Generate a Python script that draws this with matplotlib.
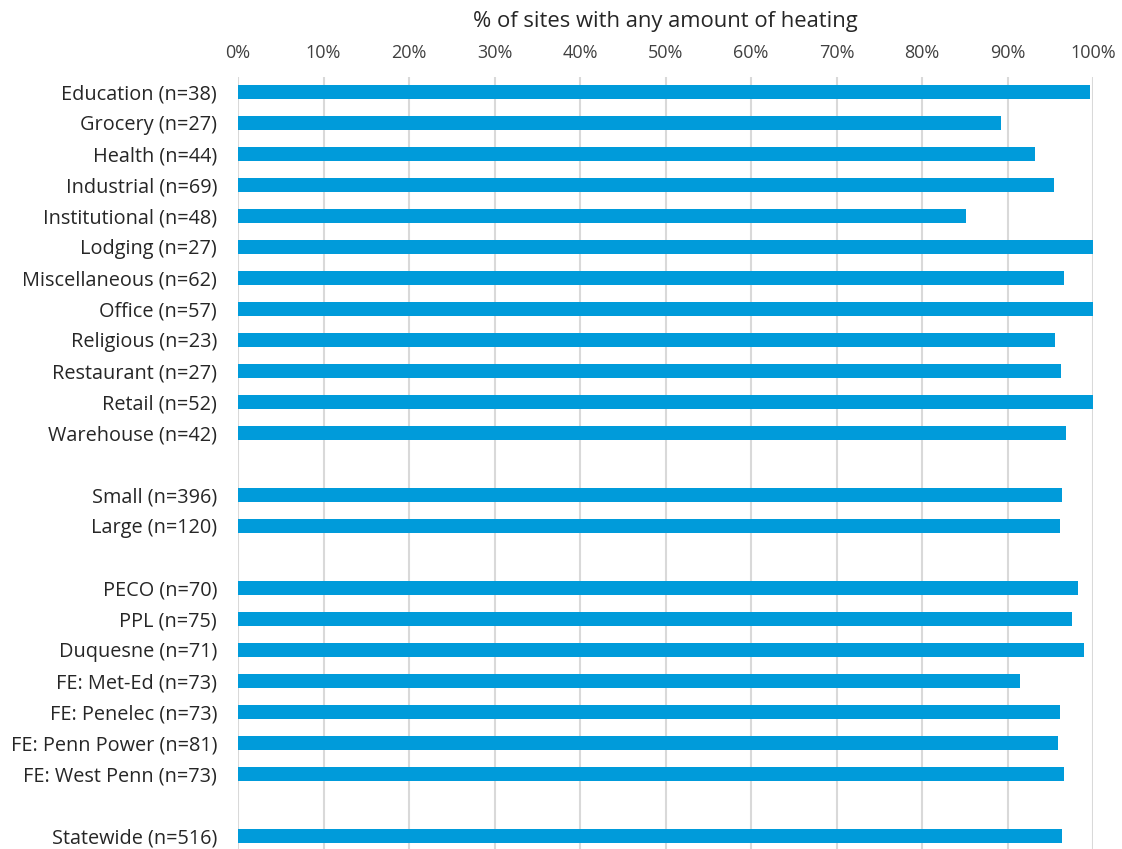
import matplotlib
matplotlib.use("Agg")
import matplotlib.pyplot as plt
import numpy as np

plt.rcParams['font.family'] = ['Open Sans', 'DejaVu Sans']

categories = ["Education (n=38)", "Grocery (n=27)", "Health (n=44)", "Industrial (n=69)",
              "Institutional (n=48)", "Lodging (n=27)", "Miscellaneous (n=62)", "Office (n=57)",
              "Religious (n=23)", "Restaurant (n=27)", "Retail (n=52)", "Warehouse (n=42)",
              None,
              "Small (n=396)", "Large (n=120)",
              None,
              "PECO (n=70)", "PPL (n=75)", "Duquesne (n=71)", "FE: Met-Ed (n=73)",
              "FE: Penelec (n=73)", "FE: Penn Power (n=81)", "FE: West Penn (n=73)",
              None,
              "Statewide (n=516)"]
values = [99.6, 89.2, 93.2, 95.4, 85.2, 100.0, 96.6, 100.0, 95.5, 96.2, 100.0, 96.9,
          None,
          96.4, 96.1,
          None,
          98.3, 97.5, 98.9, 91.5, 96.1, 95.9, 96.6,
          None,
          96.4]
xticks = list(range(0, 101, 10))
xlabel = "% of sites with any amount of heating"

fig = plt.figure(figsize=(11.22, 8.49), dpi=100)
ax = fig.add_axes([238/1122, 0.0, (1093-238)/1122, 1 - 77/849])

pos = [i for i, v in enumerate(values) if v is not None]
vals = [v for v in values if v is not None]
labs = [categories[i] for i in pos]

ax.barh(pos, vals, height=0.45, color='#009BDA', zorder=3)
ax.set_xlim(0, 100)
ax.set_ylim(24.42, -0.48)
ax.set_yticks(pos)
ax.set_yticklabels(labs, fontsize=14.3, color='#262626')
ax.set_xticks(xticks)
ax.set_xticklabels([f"{t}%" for t in xticks], fontsize=13, color='#404040')
ax.xaxis.tick_top()
ax.xaxis.set_label_position('top')
ax.set_xlabel(xlabel, fontsize=15.8, color='#262626', labelpad=12)
ax.tick_params(axis='both', length=0)
ax.tick_params(axis='y', pad=15)
ax.tick_params(axis='x', pad=11)
ax.grid(axis='x', color='#D9D9D9', linewidth=1.5, zorder=0)
for s in ax.spines.values():
    s.set_visible(False)

fig.savefig("out.png", dpi=100)
